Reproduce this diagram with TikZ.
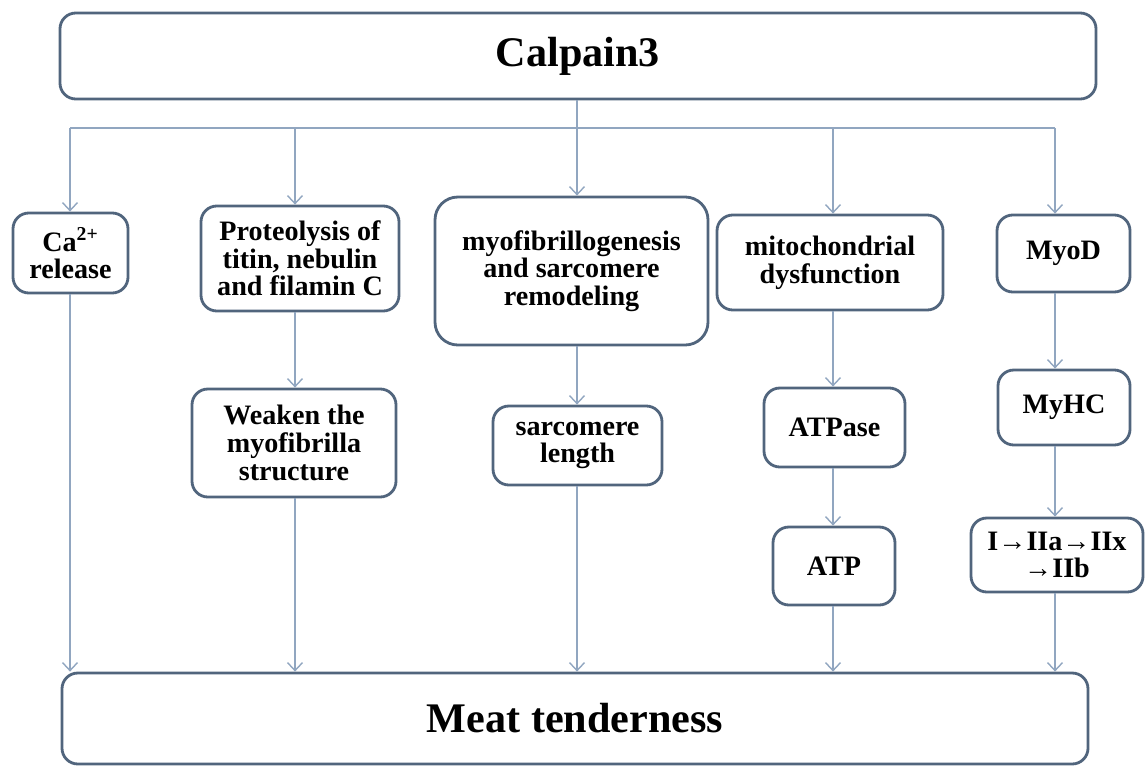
\documentclass[tikz,border=0pt]{standalone}
\usepackage{fontspec}
\setmainfont{Liberation Serif}
\usetikzlibrary{arrows.meta}
\definecolor{boxline}{HTML}{51657D}
\definecolor{linkline}{HTML}{91A6C0}
\begin{document}
\begin{tikzpicture}[
    box/.style={draw=boxline, line width=1.6pt, rounded corners=9pt, fill=white,
        align=center, inner sep=2pt, font=\bfseries\fontsize{16}{15.7}\selectfont},
    bigbox/.style={box, font=\bfseries\fontsize{24}{26}\selectfont},
    link/.style={draw=linkline, line width=0.8pt, -{Straight Barb[length=1.6mm,width=3mm]}}
]

    \useasboundingbox (0,0) rectangle (22.9,-15.36);

    \node[bigbox, minimum width=20.72cm, minimum height=1.72cm] (calpain) at (11.56,-1.12) {Calpain3};
    \node[bigbox, minimum width=20.52cm, minimum height=1.82cm] (meat) at (11.5,-14.37) {Meat tenderness};

    \node[box, minimum width=2.3cm, minimum height=1.6cm] (ca) at (1.41,-5.06) {Ca\textsuperscript{2+}\\release};
    \node[box, minimum width=3.96cm, minimum height=2.1cm] (prot) at (6.0,-5.17) {Proteolysis of\\titin, nebulin\\and filamin C};
    \node[box, minimum width=5.46cm, minimum height=2.96cm, rounded corners=13pt] (myo) at (11.43,-5.42) {myofibrillogenesis\\and sarcomere\\remodeling};
    \node[box, minimum width=4.52cm, minimum height=1.9cm] (mito) at (16.6,-5.25) {mitochondrial\\dysfunction};
    \node[box, minimum width=2.66cm, minimum height=1.54cm] (myod) at (21.27,-5.07) {MyoD};

    \node[box, minimum width=4.08cm, minimum height=2.16cm] (weaken) at (5.88,-8.86) {Weaken the\\myofibrilla\\structure};
    \node[box, minimum width=3.38cm, minimum height=1.58cm] (sarc) at (11.55,-8.91) {sarcomere\\length};
    \node[box, minimum width=2.82cm, minimum height=1.58cm] (atpase) at (16.69,-8.55) {ATPase};
    \node[box, minimum width=2.64cm, minimum height=1.5cm] (myhc) at (21.28,-8.15) {MyHC};

    \node[box, minimum width=2.44cm, minimum height=1.56cm] (atp) at (16.68,-11.32) {ATP};
    \node[box, minimum width=3.44cm, minimum height=1.48cm] (fiber) at (21.14,-11.1) {I→IIa→IIx\\→IIb};

    % bus under Calpain3
    \coordinate (b1) at (1.4,-2.56);
    \coordinate (b2) at (5.9,-2.56);
    \coordinate (b3) at (11.54,-2.56);
    \coordinate (b4) at (16.66,-2.56);
    \coordinate (b5) at (21.1,-2.56);

    \draw[linkline, line width=0.8pt] (calpain.south -| b3) -- (b3);
    \draw[linkline, line width=0.8pt] (b1) -- (b5);

    \foreach \b/\n in {b1/ca, b2/prot, b3/myo, b4/mito, b5/myod}
        \draw[link] (\b) -- (\b |- \n.north);

    % columns down to Meat tenderness
    \draw[link] (ca.south -| b1) -- (meat.north -| b1);
    \draw[link] (prot.south -| b2) -- (weaken.north -| b2);
    \draw[link] (weaken.south -| b2) -- (meat.north -| b2);
    \draw[link] (myo.south -| b3) -- (sarc.north -| b3);
    \draw[link] (sarc.south -| b3) -- (meat.north -| b3);
    \draw[link] (mito.south -| b4) -- (atpase.north -| b4);
    \draw[link] (atpase.south -| b4) -- (atp.north -| b4);
    \draw[link] (atp.south -| b4) -- (meat.north -| b4);
    \draw[link] (myod.south -| b5) -- (myhc.north -| b5);
    \draw[link] (myhc.south -| b5) -- (fiber.north -| b5);
    \draw[link] (fiber.south -| b5) -- (meat.north -| b5);

\end{tikzpicture}
\end{document}
